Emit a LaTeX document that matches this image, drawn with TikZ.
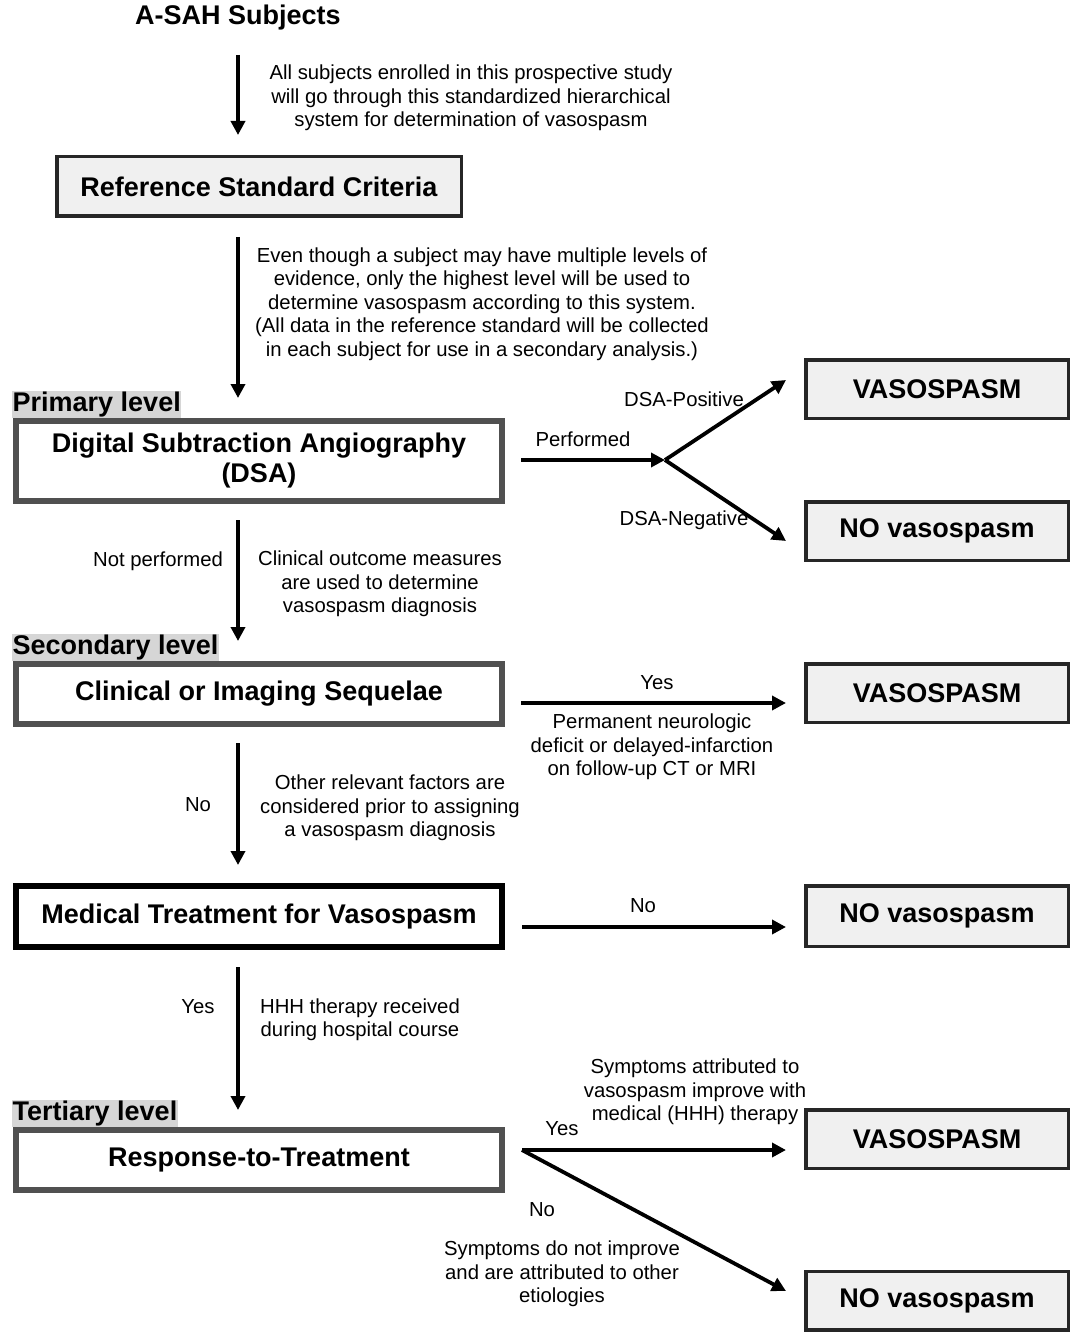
\documentclass[tikz,border=0pt]{standalone}
\usepackage{fontspec}
\setmainfont{Liberation Sans}
\usetikzlibrary{arrows.meta}
\definecolor{levgray}{HTML}{505050}
\definecolor{boxfill}{HTML}{F0F0F0}
\definecolor{labfill}{HTML}{D6D6D6}
\begin{document}
\begin{tikzpicture}[x=1pt,y=-1pt,
 arr/.style={line width=3.8pt,-{Triangle[length=14pt,width=14pt]}},
 txt/.style={align=center,font=\fontsize{20.3}{23.5}\selectfont,inner sep=0pt},
 ttl/.style={font=\fontsize{27}{30}\selectfont\bfseries,align=center},
 levelbox/.style={draw=levgray,line width=6pt,fill=white,minimum width=486pt,ttl,inner sep=0pt},
 outbox/.style={draw=black!85,line width=3.5pt,fill=boxfill,minimum width=262.5pt,minimum height=58.5pt,ttl,inner sep=0pt},
 levlab/.style={anchor=south west,fill=labfill,inner xsep=0.5pt,inner ysep=1pt,font=\fontsize{27}{28}\selectfont\bfseries}
]
\useasboundingbox (0,0) rectangle (1071,1332);

% title
\node[ttl] (asah) at (238,18) {A-SAH Subjects};
\node[txt] (t1) at (471,98) {All subjects enrolled in this prospective study\\will go through this standardized hierarchical\\system for determination of vasospasm};

% reference standard
\node[draw=black!85,line width=3.5pt,fill=boxfill,minimum width=404.5pt,minimum height=59.5pt,ttl,inner sep=0pt] (ref) at (259,186.5) {Reference Standard Criteria};
\node[txt] (t2) at (482,304) {Even though a subject may have multiple levels of\\evidence, only the highest level will be used to\\determine vasospasm according to this system.\\(All data in the reference standard will be collected\\in each subject for use in a secondary analysis.)};

% primary
\node[levelbox,minimum height=80pt] (dsa) at (259,461) {Digital Subtraction Angiography\\(DSA)};
\node[levlab] (lab1) at (12,418) {Primary level};
\node[outbox] (vas1) at (937,389) {VASOSPASM};
\node[outbox] (no1) at (937,531) {NO vasospasm};
\node[txt] (perf) at (583,439) {Performed};
\node[txt] (dsapos) at (684,399) {DSA-Positive};
\node[txt] (dsaneg) at (684,520) {DSA-Negative};

\node[txt] (notperf) at (158,561) {Not performed};
\node[txt] (t3) at (380,584) {Clinical outcome measures\\are used to determine\\vasospasm diagnosis};

% secondary
\node[levelbox,minimum height=60pt] (clin) at (259,694) {Clinical or Imaging Sequelae};
\node[levlab] (lab2) at (12,661) {Secondary level};
\node[outbox] (vas2) at (937,693) {VASOSPASM};
\node[txt] (yes2) at (657,683) {Yes};
\node[txt] (t4) at (652,747) {Permanent neurologic\\deficit or delayed-infarction\\on follow-up CT or MRI};
\node[txt] (no2lab) at (198,805) {No};
\node[txt] (t5) at (390,808) {Other relevant factors are\\considered prior to assigning\\a vasospasm diagnosis};

% medical
\node[draw=black,line width=6pt,fill=white,minimum width=486pt,minimum height=61pt,ttl,inner sep=0pt] (med) at (259,916.5) {Medical Treatment for Vasospasm};
\node[outbox,minimum height=60.5pt] (no2) at (937,916) {NO vasospasm};
\node[txt] (nomed) at (643,906) {No};
\node[txt] (yesmed) at (198,1007) {Yes};
\node[txt] (t6) at (360,1019.5) {HHH therapy received\\during hospital course};

% tertiary
\node[levelbox,minimum height=60pt] (resp) at (259,1160) {Response-to-Treatment};
\node[levlab] (lab3) at (12,1127) {Tertiary level};
\node[outbox] (vas3) at (937,1139) {VASOSPASM};
\node[outbox] (no3) at (937,1300.5) {NO vasospasm};
\node[txt] (yes3) at (562,1129) {Yes};
\node[txt] (t7) at (695,1092) {Symptoms attributed to\\vasospasm improve with\\medical (HHH) therapy};
\node[txt] (no3lab) at (542,1210) {No};
\node[txt] (t8) at (562,1274) {Symptoms do not improve\\and are attributed to other\\etiologies};

% coordinates for arrow ends
\coordinate (a1s) at (238,55);   \coordinate (a1e) at (238,135);
\coordinate (a2s) at (238,237);  \coordinate (a2e) at (238,398);
\coordinate (a3s) at (238,520);  \coordinate (a3e) at (238,641);
\coordinate (a4s) at (238,743);  \coordinate (a4e) at (238,865);
\coordinate (a5s) at (238,967);  \coordinate (a5e) at (238,1110);
\coordinate (h1s) at (521,460);  \coordinate (split) at (665,460);
\coordinate (pos) at (786,380);  \coordinate (neg) at (786,541);
\coordinate (h2s) at (521,703);  \coordinate (h2e) at (786,703);
\coordinate (h3s) at (522,927);  \coordinate (h3e) at (786,927);
\coordinate (r3) at (522,1150);
\coordinate (h4e) at (786,1150); \coordinate (h5e) at (786,1291);

% vertical arrows
\draw[arr] (a1s) -- (a1e);
\draw[arr] (a2s) -- (a2e);
\draw[arr] (a3s) -- (a3e);
\draw[arr] (a4s) -- (a4e);
\draw[arr] (a5s) -- (a5e);

% horizontal / diagonal arrows
\draw[arr] (h1s) -- (split);
\draw[arr] (split) -- (pos);
\draw[arr] (split) -- (neg);
\draw[arr] (h2s) -- (h2e);
\draw[arr] (h3s) -- (h3e);
\draw[arr] (r3) -- (h4e);
\draw[arr] (r3) -- (h5e);
\end{tikzpicture}
\end{document}
